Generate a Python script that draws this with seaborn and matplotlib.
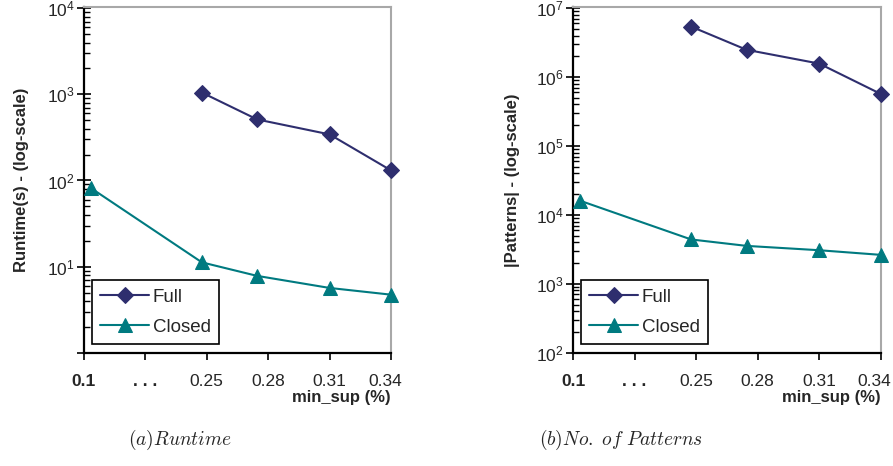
import numpy as np
import pandas as pd
import seaborn as sns
import matplotlib
matplotlib.use("Agg")
import matplotlib.pyplot as plt
import matplotlib.transforms as mtransforms
from matplotlib.ticker import FixedLocator, LogLocator, NullFormatter

# ---- data ----
tick_labels = ["0.1", ". . .", "0.25", "0.28", "0.31", "0.34"]
pos_full = [1.92, 2.82, 4.0, 5.0]
pos_closed = [0.12, 1.92, 2.82, 4.0, 5.0]
runtime_full = [1050, 512, 343, 131]
runtime_closed = [81, 11.2, 7.8, 5.65, 4.72]
patterns_full = [5.4e6, 2.49e6, 1.57e6, 5.7e5]
patterns_closed = [1.6e4, 4.4e3, 3.55e3, 3.07e3, 2.63e3]
series_names = ["Full", "Closed"]

sns.set_style("white")
plt.rcParams["font.family"] = ["Liberation Sans", "DejaVu Sans"]
plt.rcParams["mathtext.fontset"] = "custom"
plt.rcParams["mathtext.rm"] = "Liberation Sans"
plt.rcParams["mathtext.it"] = "Liberation Sans:italic"

FULL_C = "#2E2E6E"
CLOSED_C = "#007A80"

fig = plt.figure(figsize=(8.93, 4.66), dpi=100)
ax1 = fig.add_axes([84/893, 1-352.7/466, (391-84)/893, (352.7-7)/466])
ax2 = fig.add_axes([573/893, 1-352.7/466, (880.7-573)/893, (352.7-7)/466])

def draw(ax, full, closed, ylim, ylabel, ylabelpad):
    df_f = pd.DataFrame({"x": pos_full, "y": full})
    df_c = pd.DataFrame({"x": pos_closed, "y": closed})
    sns.lineplot(data=df_f, x="x", y="y", ax=ax, color=FULL_C, marker="D",
                 markersize=8, markeredgecolor=FULL_C, linewidth=1.5,
                 label=series_names[0], clip_on=False, zorder=3)
    sns.lineplot(data=df_c, x="x", y="y", ax=ax, color=CLOSED_C, marker="^",
                 markersize=10, markeredgecolor=CLOSED_C, linewidth=1.5,
                 label=series_names[1], clip_on=False, zorder=3)
    ax.set_yscale("log")
    ax.set_ylim(*ylim)
    ax.set_xlim(0, 5)
    ax.xaxis.set_major_locator(FixedLocator(range(len(tick_labels))))
    ax.set_xticklabels(tick_labels)
    for i, t in enumerate(ax.get_xticklabels()):
        t.set_fontsize(12.5)
        if i < 2:
            t.set_fontweight("bold")
    ax.yaxis.set_major_locator(LogLocator(base=10, numticks=20))
    ax.yaxis.set_minor_locator(LogLocator(base=10, subs=np.arange(2, 10), numticks=20))
    ax.yaxis.set_minor_formatter(NullFormatter())
    ax.tick_params(axis="y", which="major", direction="inout", length=9.5,
                   width=1.2, labelsize=12.5, left=True, color="black", pad=2)
    ax.tick_params(axis="y", which="minor", direction="in", length=4.5,
                   width=1.0, left=True, color="black")
    ax.tick_params(axis="x", which="major", direction="out", length=5,
                   width=1.2, bottom=True, color="black", pad=10)
    ax.set_ylabel(ylabel, fontsize=12, fontweight="bold", labelpad=ylabelpad)
    ax.set_xlabel("min_sup (%)", fontsize=12, fontweight="bold", loc="right", labelpad=1)
    for s in ["left", "bottom"]:
        ax.spines[s].set_color("black")
        ax.spines[s].set_linewidth(1.6)
    for s in ["top", "right"]:
        ax.spines[s].set_color("#a8a8a8")
        ax.spines[s].set_linewidth(1.5)
    ax.grid(False)
    leg = ax.legend(loc="lower left", bbox_to_anchor=(0.026, 0.024), fontsize=13.5,
                    frameon=True, fancybox=False, framealpha=1, edgecolor="black",
                    handlelength=2.6, labelspacing=0.7, borderpad=0.45,
                    handletextpad=0.2, borderaxespad=0)
    leg.get_frame().set_linewidth(1.2)
    return ax

draw(ax1, runtime_full, runtime_closed, (1, 1.035e4), "Runtime(s) - (log-scale)", 13)
draw(ax2, patterns_full, patterns_closed, (100, 1.04e7), "|Patterns| - (log-scale)", 11)

fig.canvas.draw()
# hide the 10^0 label on the left panel
for t in ax1.get_yticklabels():
    if t.get_position()[1] <= 1.0001:
        t.set_visible(False)
# last x tick label is pulled inward a little, as in the reference
off = mtransforms.ScaledTranslation(-6/100, 0, fig.dpi_scale_trans)
for ax in (ax1, ax2):
    lab = ax.xaxis.get_major_ticks()[-1].label1
    lab.set_transform(lab.get_transform() + off)

fig.text(180/893, 1-440/466, r"$(a)Runtime$", ha="center", va="center",
         fontsize=14, math_fontfamily="cm")
fig.text(621/893, 1-440/466, r"$(b)No.\ of\ Patterns$", ha="center", va="center",
         fontsize=14, math_fontfamily="cm")

fig.savefig("out.png", dpi=100)
